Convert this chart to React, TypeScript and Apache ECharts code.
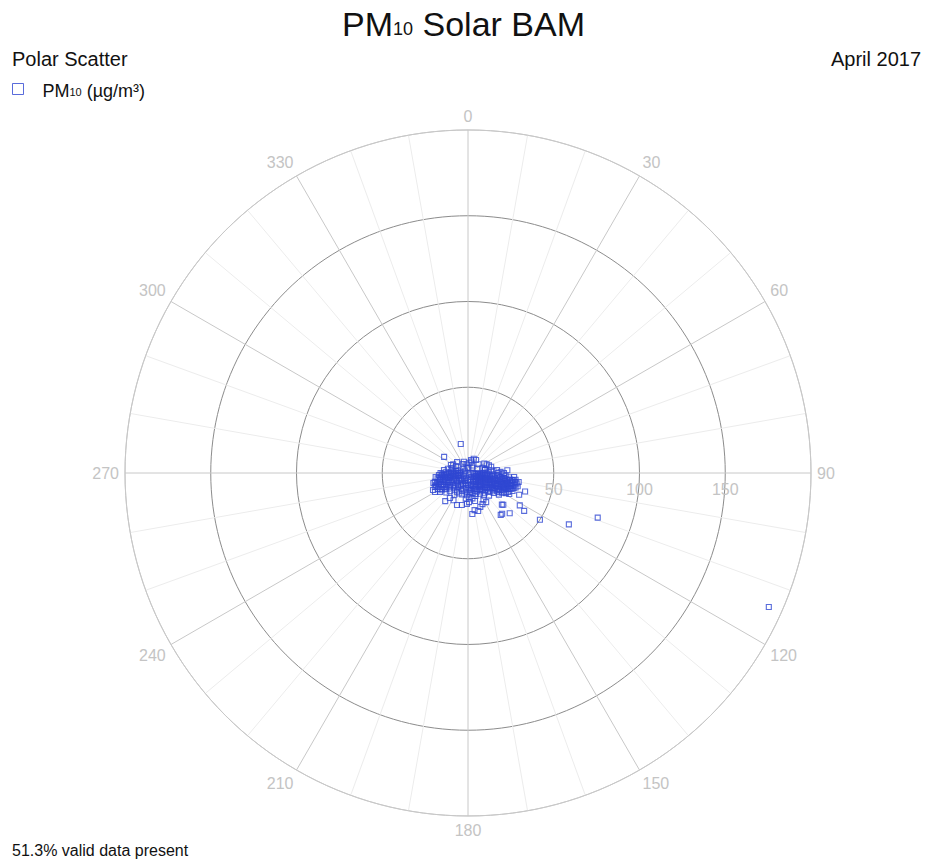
import React, { useEffect, useRef } from 'react';
import * as echarts from 'echarts';

const TITLE_MAIN = 'PM';
const TITLE_SUB = '10';
const TITLE_REST = ' Solar BAM';
const SUBTITLE_LEFT = 'Polar Scatter';
const SUBTITLE_RIGHT = 'April 2017';
const FOOTER = '51.3% valid data present';
const SERIES_NAME = 'PM10 (µg/m³)';

const RADIUS_MAX = 200;
const RADIUS_STEP = 50;
const RADIUS_LABELS = [50, 100, 150];
const ANGLE_STEP = 10;
const ANGLE_LABEL_STEP = 30;

// [radius (µg/m³), wind direction (deg)]
const outlierPoints: number[][] = [
  [192, 114], [80, 109], [66, 117], [50, 123], [39.5, 124], [35.6, 122], [35, 108],
  [32.4, 113], [33.8, 134], [31, 140], [27.7, 132], [31, 142], [27, 133],
];
const eastPoints: number[][] = [
  [29, 107], [28, 104], [27, 110], [26, 99], [25, 100], [28, 101], [26, 106], [24, 103],
  [23, 108], [22, 112], [21, 98], [20, 105], [19, 110], [18, 115], [17, 95], [16, 100],
  [15, 104], [14, 112], [13, 96], [12, 108], [11, 100], [10, 120], [9, 90], [8, 105],
  [7, 115], [6, 98], [5, 110], [24, 96], [22, 94], [20, 92], [27, 95], [29, 102],
  [30, 105], [28, 112], [26, 115], [25, 118], [23, 120], [22, 125], [21, 118], [20, 122],
  [19, 128], [18, 124], [17, 130], [16, 120], [15, 126], [14, 135], [13, 130], [12, 140],
  [11, 125], [10, 135], [9, 142], [8, 130], [7, 138], [6, 125], [17.5, 90], [13.5, 83],
  [10, 80], [17, 84], [24.8, 99], [26.6, 99], [19, 88], [21, 90], [23, 86], [15, 86],
  [12, 88], [28, 98], [30, 100], [25, 108], [24, 113], [27, 117], [16, 108], [18, 102],
  [20, 100], [22, 102], [14, 93], [11, 92],
];
const southPoints: number[][] = [
  [16.8, 166], [22.9, 165], [24, 174], [18, 182], [19, 191], [19.7, 199], [15, 170],
  [13, 160], [12, 175], [10, 155], [14, 150], [16, 145], [18, 150], [20, 155], [11, 185],
  [9, 170], [8, 160], [7, 190], [6, 150], [5, 175], [13, 195], [15, 185], [17, 178],
  [21, 160], [20, 148], [12, 145], [10, 195], [22, 170],
];
const southWestPoints: number[][] = [
  [22.2, 240], [19.7, 236], [21.1, 219], [18, 216], [22.7, 244], [12.6, 236], [15, 225],
  [13, 210], [11, 230], [10, 245], [17, 228], [19, 245], [20, 250], [16, 240], [14, 248],
  [9, 220], [8, 235], [7, 205], [18, 208], [15, 212], [12, 250], [21, 247], [6, 240],
];
const westPoints: number[][] = [
  [16.8, 256], [13.7, 258], [14.1, 277], [9.8, 287], [18, 260], [19, 263], [20, 255],
  [17, 266], [15, 262], [12, 268], [11, 255], [10, 275], [9, 260], [8, 265], [7, 280],
  [6, 255], [5, 270], [13, 272], [16, 270], [18, 253], [12, 282], [10, 265], [14, 252],
  [17, 259],
];
const northWestPoints: number[][] = [
  [17.4, 346], [16.8, 304], [6, 330], [5, 350], [8, 300], [9, 315], [4, 320], [7, 340],
  [11, 295], [10, 300], [3, 355],
];
const northEastPoints: number[][] = [
  [7.8, 13], [8.9, 32], [10.1, 80], [7, 17], [9, 22], [6, 8], [4, 40], [8, 50], [11, 60],
  [12, 65], [9, 70], [14, 75], [6, 65], [5, 30], [3, 5], [10, 76], [13, 70],
];
const centerPoints: number[][] = [
  [2, 100], [3, 200], [2, 250], [1, 150], [4, 120], [3, 90], [2, 300], [4, 180], [3, 140],
  [5, 230],
];
const corePoints: number[][] = [
  [6, 92], [7, 101], [8, 95], [9, 112], [10, 97], [11, 106], [12, 116], [13, 103], [14, 98],
  [15, 110], [16, 117], [17, 104], [18, 109], [19, 97], [20, 113], [21, 107], [22, 99],
  [23, 104], [24, 108], [25, 112], [26, 103], [27, 106], [28, 108], [23, 115], [21, 122],
  [19, 119], [17, 121], [15, 118], [13, 123], [11, 116], [9, 124], [8, 118], [7, 126],
  [10, 140], [12, 132], [14, 128], [16, 133], [18, 137], [11, 150], [13, 142], [9, 152],
  [8, 165], [10, 172], [12, 167], [14, 178], [7, 178], [9, 188], [11, 198], [13, 203],
  [8, 210], [10, 215], [12, 222], [14, 230], [16, 234], [18, 238], [20, 242], [11, 240],
  [9, 248], [13, 244], [15, 250], [17, 247], [19, 252], [21, 254], [16, 262], [14, 264],
  [12, 259], [10, 258], [8, 252], [7, 268], [9, 272], [11, 270], [13, 266], [15, 268],
  [6, 285], [8, 278], [5, 200], [6, 215], [4, 255], [5, 140], [4, 160], [6, 110],
  [5, 95], [3, 240], [4, 280], [20, 118], [22, 110], [24, 118], [26, 110], [18, 96],
];
const denseCorePoints: number[][] = [
  [7, 96], [8, 100], [9, 103], [10, 108], [11, 111], [12, 99], [13, 109], [14, 105],
  [15, 96], [16, 112], [17, 113], [18, 105], [19, 102], [20, 108], [21, 102], [22, 106],
  [23, 100], [24, 105], [25, 104], [26, 107], [12, 120], [14, 118], [16, 125], [18, 120],
  [10, 128], [9, 133], [11, 138], [13, 137], [15, 140], [8, 145], [10, 160], [12, 155],
  [14, 162], [9, 178], [11, 175], [13, 183], [10, 205], [12, 212], [9, 228], [11, 225],
  [13, 232], [15, 238], [17, 241], [19, 240], [12, 245], [14, 240], [16, 245], [18, 249],
  [20, 248], [13, 252], [15, 256], [17, 253], [11, 262], [13, 260], [15, 265], [9, 266],
  [7, 258], [6, 270], [8, 242], [7, 230], [6, 195], [7, 165], [6, 135], [7, 108],
  [5, 122], [4, 100], [5, 260], [6, 225], [16, 102], [19, 114], [21, 111], [23, 111],
];

const BLUE = '#2f47d2';
const LABEL_GREY = '#c4c4c4';
const FONT = '"Liberation Sans", Arial, sans-serif';

export default function App() {
  const ref = useRef<HTMLDivElement>(null);
  useEffect(() => {
    if (!ref.current) return;
    const chart = echarts.init(ref.current, null, { renderer: 'svg' });
    const data = [
      ...outlierPoints, ...eastPoints, ...southPoints, ...southWestPoints,
      ...westPoints, ...northWestPoints, ...northEastPoints, ...centerPoints, ...corePoints,
      ...denseCorePoints,
    ];
    const plain = { fontWeight: 'normal', color: '#111', fontFamily: FONT };
    chart.setOption({
      animation: false,
      backgroundColor: '#fff',
      textStyle: { fontFamily: FONT },
      title: [
        {
          text: `{a|${TITLE_MAIN}}{b|${TITLE_SUB}}{a|${TITLE_REST}}`,
          left: 'center',
          top: -1,
          padding: 0,
          textStyle: {
            fontWeight: 'normal',
            rich: {
              a: { ...plain, fontSize: 34, verticalAlign: 'bottom', lineHeight: 42 },
              b: { ...plain, fontSize: 18, verticalAlign: 'bottom', lineHeight: 42, padding: [0, 0, 3, 0] },
            },
          },
        },
        { text: SUBTITLE_LEFT, left: 12, top: 49, padding: 0, textStyle: { ...plain, fontSize: 20 } },
        { text: SUBTITLE_RIGHT, right: 6, top: 49, padding: 0, textStyle: { ...plain, fontSize: 20 } },
        { text: FOOTER, left: 12, top: 842, padding: 0, textStyle: { ...plain, fontSize: 16 } },
      ],
      legend: {
        left: 12,
        top: 82,
        padding: 0,
        icon: 'rect',
        itemWidth: 11,
        itemHeight: 11,
        itemStyle: { color: 'rgba(0,0,0,0)', borderColor: BLUE, borderWidth: 1 },
        formatter: () => '{a|PM}{b|10}{a| (µg/m³)}',
        textStyle: {
          padding: [0, 0, 0, 14],
          rich: {
            a: { fontSize: 18, color: '#111', fontFamily: FONT, verticalAlign: 'bottom', lineHeight: 22 },
            b: { fontSize: 11, color: '#111', fontFamily: FONT, verticalAlign: 'bottom', lineHeight: 22, padding: [0, 0, 3, 0] },
          },
        },
        data: [SERIES_NAME],
      },
      polar: { center: [468, 473], radius: 343 },
      angleAxis: {
        type: 'value',
        min: 0,
        max: 360,
        interval: ANGLE_STEP,
        startAngle: 90,
        clockwise: true,
        axisLine: { show: true, lineStyle: { color: '#c8c8c8', width: 1 } },
        axisTick: { show: false },
        axisLabel: {
          margin: 6,
          color: LABEL_GREY,
          fontSize: 16,
          fontFamily: FONT,
          formatter: (v: number) => (v % ANGLE_LABEL_STEP === 0 && v < 360 ? String(v) : ''),
        },
        splitLine: { show: true, lineStyle: { color: ['#c8c8c8', '#ececec', '#ececec'], width: 1 } },
      },
      radiusAxis: {
        type: 'value',
        min: 0,
        max: RADIUS_MAX,
        interval: RADIUS_STEP,
        axisLine: { show: false },
        axisTick: { show: false },
        axisLabel: { show: false },
        splitLine: { show: true, lineStyle: { color: ['#8c8c8c', '#8c8c8c', '#8c8c8c', '#8c8c8c', '#c8c8c8'], width: 1 } },
      },
      series: [
        {
          name: SERIES_NAME,
          type: 'scatter',
          coordinateSystem: 'polar',
          symbol: 'rect',
          symbolSize: 5,
          itemStyle: { color: 'rgba(0,0,0,0)', borderColor: BLUE, borderWidth: 1.1 },
          data,
          z: 5,
        },
      ],
    });
    const graphics = RADIUS_LABELS.map((r) => {
      const p = chart.convertToPixel({ polarIndex: 0 } as any, [r, 90]) as number[];
      return {
        type: 'text',
        x: p[0],
        y: p[1] + 8,
        silent: true,
        style: { text: String(r), fill: LABEL_GREY, font: `16px ${FONT}`, textAlign: 'center', textVerticalAlign: 'top' },
      };
    });
    chart.setOption({ graphic: graphics });
    return () => chart.dispose();
  }, []);
  return <div ref={ref} style={{ position: 'absolute', left: 0, top: 0, width: 927, height: 865 }} />;
}
